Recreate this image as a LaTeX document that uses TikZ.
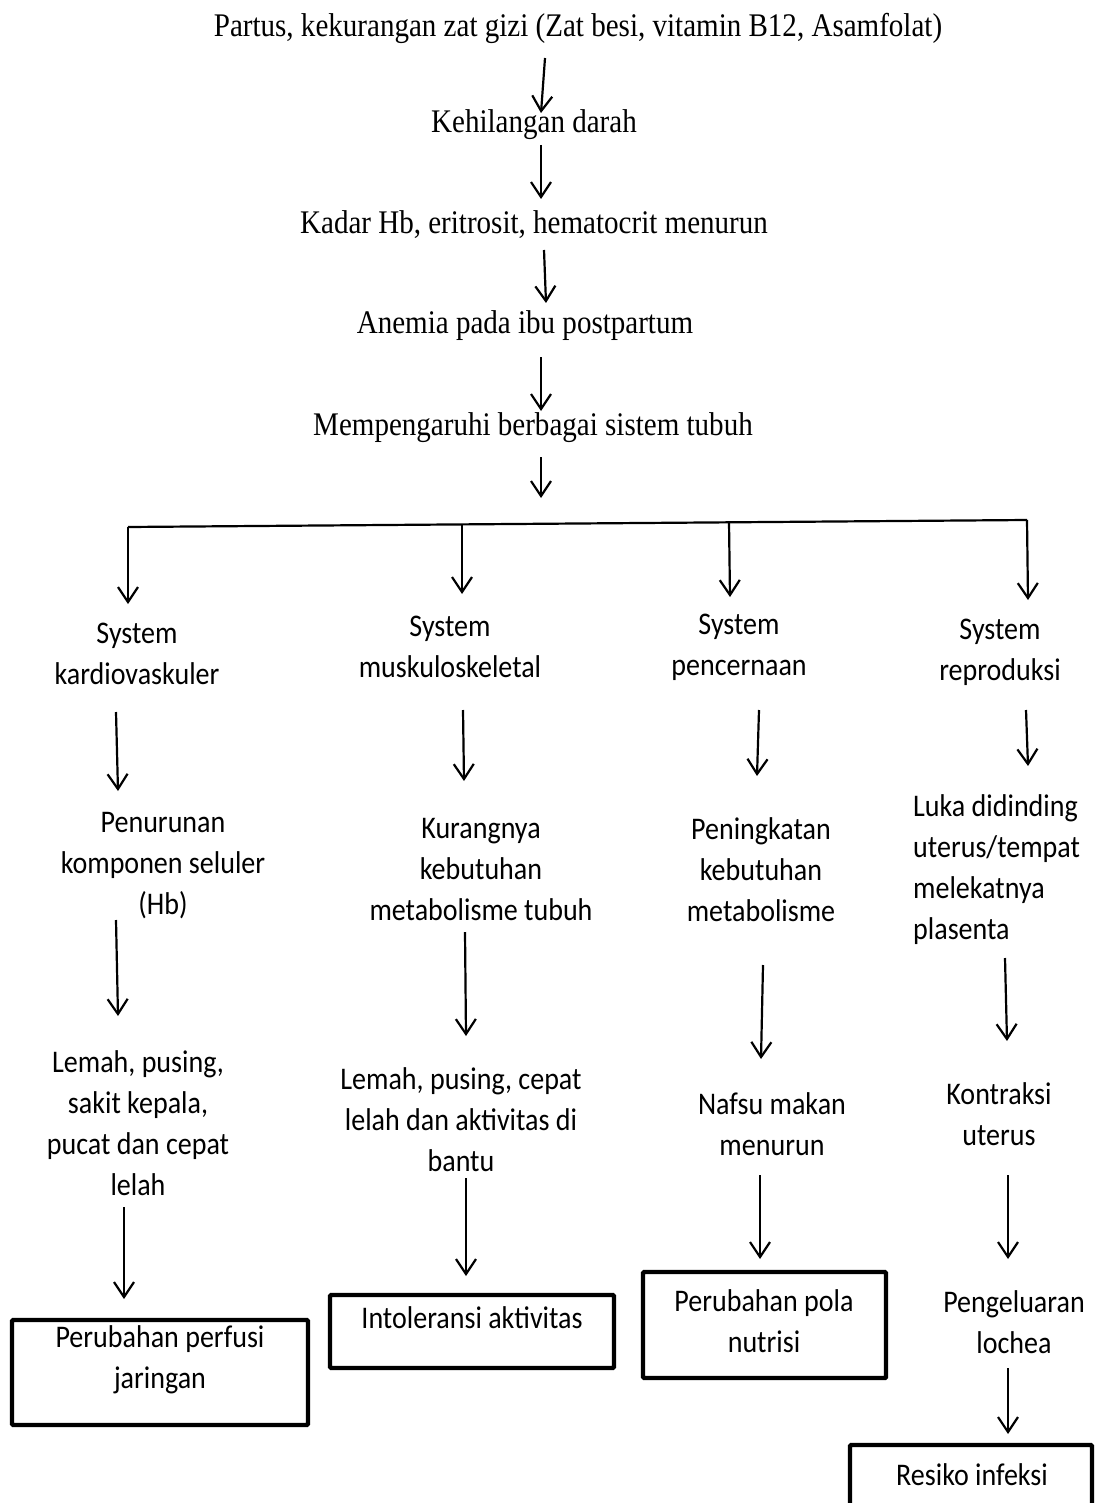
\documentclass[tikz,border=0pt]{standalone}
\usepackage{fontspec}
\setmainfont[FakeStretch=0.88]{Liberation Serif}
\newfontfamily\sansf[FakeStretch=0.89]{Carlito}
\usetikzlibrary{arrows.meta}
\tikzset{
  serift/.style={inner sep=0pt, font=\fontsize{33}{38}\selectfont},
  sanst/.style={inner sep=0pt, align=center, font=\sansf\fontsize{31.5}{41}\selectfont},
  sanstl/.style={inner sep=0pt, align=left, font=\sansf\fontsize{31.5}{41}\selectfont},
  flow/.style={line width=2.2pt, -{Straight Barb[length=15pt,width=20pt,line width=2.2pt]}},
  plain/.style={line width=2.2pt},
  dxbox/.style={draw, line width=4.2pt, rounded corners=1pt, inner sep=0pt},
}
\begin{document}
\begin{tikzpicture}[x=1pt,y=-1pt]
\useasboundingbox (0,0) rectangle (1097,1503);
% top chain
\node[serift] (t1) at (578,28) {Partus, kekurangan zat gizi (Zat besi, vitamin B12, Asamfolat)};
\node[serift] (t2) at (534,125) {Kehilangan darah};
\node[serift] (t3) at (534,225) {Kadar Hb, eritrosit, hematocrit menurun};
\node[serift] (t4) at (525,326) {Anemia pada ibu postpartum};
\node[serift] (t5) at (533,428) {Mempengaruhi berbagai sistem tubuh};

\coordinate (a1s) at (545,58);  \coordinate (a1e) at (541,113);
\coordinate (a2s) at (541,145); \coordinate (a2e) at (541,199);
\coordinate (a3s) at (544,250); \coordinate (a3e) at (546,303);
\coordinate (a4s) at (541,357); \coordinate (a4e) at (541,411);
\coordinate (a5s) at (541,457); \coordinate (a5e) at (541,498);
\draw[flow] (a1s) -- (a1e);
\draw[flow] (a2s) -- (a2e);
\draw[flow] (a3s) -- (a3e);
\draw[flow] (a4s) -- (a4e);
\draw[flow] (a5s) -- (a5e);

% distribution bar
\coordinate (hl) at (128,527);
\coordinate (h2) at (462,525);
\coordinate (h3) at (729,522);
\coordinate (hr) at (1027,520);
\draw[plain] (hl) -- (hr);

% column 1
\node[sanst] (c1a) at (137,654) {System\\kardiovaskuler};
\node[sanst] (c1b) at (163,866) {Penurunan\\komponen seluler\\(Hb)};
\node[sanst] (c1c) at (138,1123) {Lemah, pusing,\\sakit kepala,\\pucat dan cepat\\lelah};
\node[dxbox, minimum width=296pt, minimum height=105pt] (b1) at (160,1372.5) {};
\node[sanst] (b1t) at (160,1360) {Perubahan perfusi\\jaringan};
\coordinate (c1e0) at (128,604);
\coordinate (c1s1) at (116,712); \coordinate (c1e1) at (118,791);
\coordinate (c1s2) at (116,920); \coordinate (c1e2) at (118,1016);
\coordinate (c1s3) at (124,1207); \coordinate (c1e3) at (124,1299);
\draw[flow] (hl) -- (c1e0);
\draw[flow] (c1s1) -- (c1e1);
\draw[flow] (c1s2) -- (c1e2);
\draw[flow] (c1s3) -- (c1e3);

% column 2
\node[sanst] (c2a) at (450,647) {System\\muskuloskeletal};
\node[sanst] (c2b) at (481,870) {Kurangnya\\kebutuhan\\metabolisme tubuh};
\node[sanst] (c2c) at (461,1120) {Lemah, pusing, cepat\\lelah dan aktivitas di\\bantu};
\node[dxbox, minimum width=284pt, minimum height=73pt] (b2) at (472,1331.5) {};
\node[sanst] (b2t) at (472,1318) {Intoleransi aktivitas};
\coordinate (c2e0) at (462,594);
\coordinate (c2s1) at (463,710); \coordinate (c2e1) at (464,781);
\coordinate (c2s2) at (465,932); \coordinate (c2e2) at (466,1036);
\coordinate (c2s3) at (466,1178); \coordinate (c2e3) at (466,1276);
\draw[flow] (h2) -- (c2e0);
\draw[flow] (c2s1) -- (c2e1);
\draw[flow] (c2s2) -- (c2e2);
\draw[flow] (c2s3) -- (c2e3);

% column 3
\node[sanst] (c3a) at (739,647) {System\\pencernaan};
\node[sanst] (c3b) at (761,870) {Peningkatan\\kebutuhan\\metabolisme};
\node[sanst] (c3c) at (772,1124) {Nafsu makan\\menurun};
\node[dxbox, minimum width=243pt, minimum height=106pt] (b3) at (764.5,1325) {};
\node[sanst] (b3t) at (764,1321) {Perubahan pola\\nutrisi};
\coordinate (c3e0) at (730,597);
\coordinate (c3s1) at (759,710); \coordinate (c3e1) at (757,776);
\coordinate (c3s2) at (763,965); \coordinate (c3e2) at (761,1059);
\coordinate (c3s3) at (760,1175); \coordinate (c3e3) at (760,1259);
\draw[flow] (h3) -- (c3e0);
\draw[flow] (c3s1) -- (c3e1);
\draw[flow] (c3s2) -- (c3e2);
\draw[flow] (c3s3) -- (c3e3);

% column 4
\node[sanst] (c4a) at (1000,652) {System\\reproduksi};
\node[sanstl, anchor=west] (c4b) at (913,870) {Luka didinding\\uterus/tempat\\melekatnya\\plasenta};
\node[sanst] (c4c) at (999,1114) {Kontraksi\\uterus};
\node[sanst] (c4d) at (1014,1322) {Pengeluaran\\lochea};
\node[dxbox, minimum width=242pt, minimum height=80pt] (b4) at (971,1485) {};
\node[sanst] (b4t) at (972,1475) {Resiko infeksi};
\coordinate (c4e0) at (1028,600);
\coordinate (c4s1) at (1026,710); \coordinate (c4e1) at (1028,766);
\coordinate (c4s2) at (1005,958); \coordinate (c4e2) at (1007,1041);
\coordinate (c4s3) at (1008,1175); \coordinate (c4e3) at (1008,1259);
\coordinate (c4s4) at (1008,1368); \coordinate (c4e4) at (1008,1434);
\draw[flow] (hr) -- (c4e0);
\draw[flow] (c4s1) -- (c4e1);
\draw[flow] (c4s2) -- (c4e2);
\draw[flow] (c4s3) -- (c4e3);
\draw[flow] (c4s4) -- (c4e4);
\end{tikzpicture}
\end{document}
